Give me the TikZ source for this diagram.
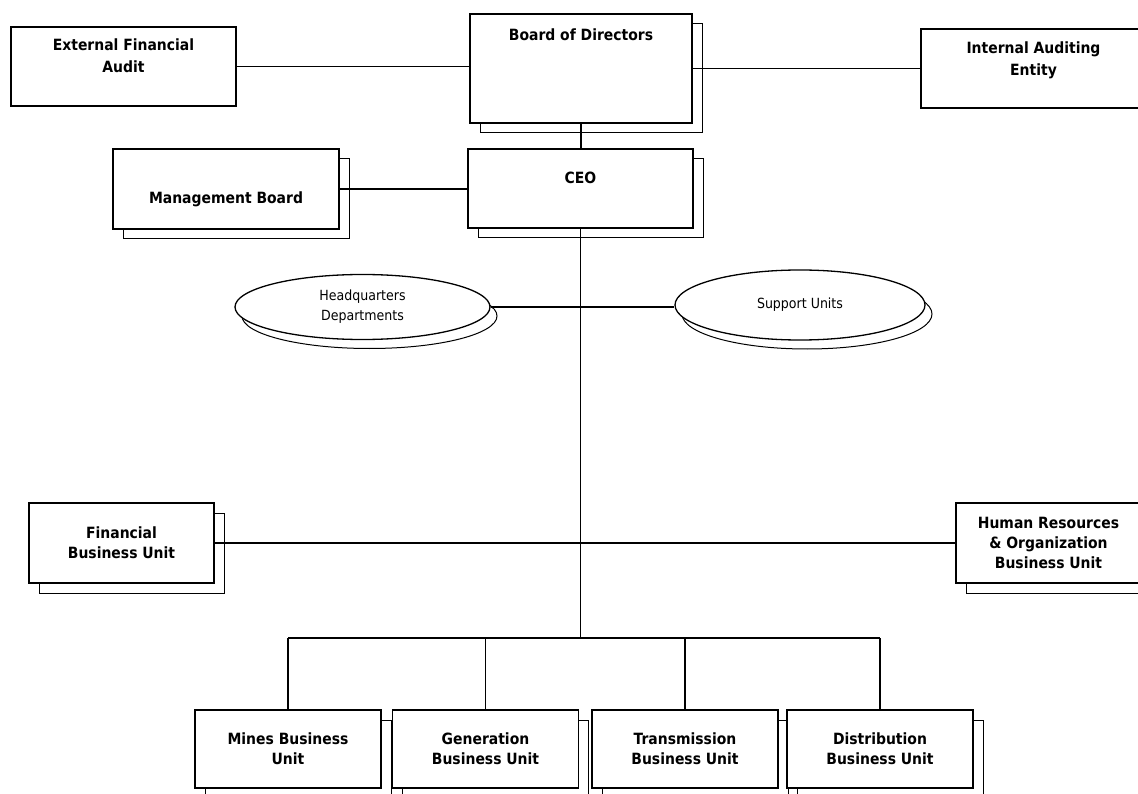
\documentclass[tikz,border=0pt]{standalone}
\usepackage{fontspec}
\setmainfont{DejaVu Sans Condensed}
\usetikzlibrary{shapes.geometric,shadows}

\begin{document}
\begin{tikzpicture}[x=1pt,y=-1pt,
	unit/.style={draw,fill=white,line width=1.5pt,inner sep=0pt,align=center,font=\fontsize{15.5}{20}\selectfont\bfseries},
	stack/.style={general shadow={shadow xshift=10pt,shadow yshift=-10pt,draw,fill=white,line width=1pt}},
	oval/.style={ellipse,draw,fill=white,line width=1.3pt,inner sep=0pt,align=center,font=\fontsize{14}{20}\selectfont,general shadow={shadow xshift=7pt,shadow yshift=-9pt,draw,fill=white,line width=1pt}},
	head/.style 2 args={label={[anchor=north,align=center,inner sep=0pt,font=\fontsize{15.5}{22}\selectfont\bfseries,label distance=-#1]north:#2}},
	link/.style={line width=1.5pt}]
	\clip (0,0) rectangle (1138,794);
	\fill[white] (0,0) rectangle (1138,794);
	\node[unit,minimum width=225,minimum height=79,head={12pt}{External Financial\\Audit}] (1) at (123.5,66.5) {};
	\node[unit,stack,minimum width=222,minimum height=109,head={15pt}{Board of Directors}] (2) at (581,68.5) {};
	\node[unit,minimum width=225,minimum height=79,head={13pt}{Internal Auditing\\Entity}] (3) at (1033.5,68.5) {};
	\node[unit,stack,minimum width=225,minimum height=79,head={24pt}{CEO}] (4) at (580.5,188.5) {};
	\node[unit,stack,minimum width=226,minimum height=80,head={43pt}{Management Board}] (5) at (226,189) {};
	\node[oval,minimum width=255,minimum height=65] (6) at (362.5,307) {Headquarters\\Departments};
	\node[oval,minimum width=250,minimum height=70] (7) at (800,305) {Support Units};
	\node[unit,stack,minimum width=185,minimum height=80] (8) at (121.5,543) {Financial\\Business Unit};
	\node[unit,stack,minimum width=185,minimum height=80] (9) at (1048.5,543) {Human Resources\\\& Organization\\Business Unit};
	\node[unit,stack,minimum width=186,minimum height=78] (10) at (288,749) {Mines Business\\Unit};
	\node[unit,stack,minimum width=186,minimum height=78] (11) at (485.5,749) {Generation\\Business Unit};
	\node[unit,stack,minimum width=186,minimum height=78] (12) at (685,749) {Transmission\\Business Unit};
	\node[unit,stack,minimum width=186,minimum height=78] (13) at (880,749) {Distribution\\Business Unit};
	\coordinate (bus) at (581,638);
	\draw[link] (1.east) -- (1.east -| 2.west);
	\draw[link] (2.east) -- (2.east -| 3.west);
	\draw[link] (2.south) -- (2.south |- 4.north);
	\draw[link] (5.east) -- (5.east -| 4.west);
	\draw[link] (4.south) -- (4.south |- bus);
	\draw[link] (6.east) -- (6.east -| 7.west);
	\draw[link] (8.east) -- (9.west);
	\draw[link] (10.north |- bus) -- (13.north |- bus);
	\foreach \n in {10,...,13}
		\draw[link] (\n.north) -- (\n.north |- bus);
\end{tikzpicture}
\end{document}
